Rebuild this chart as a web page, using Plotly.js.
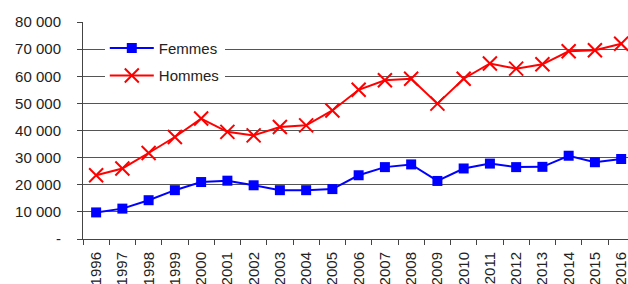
<!DOCTYPE html>
<html><head><meta charset="utf-8">
<script src="https://cdn.plot.ly/plotly-3.0.1.min.js"></script>
<style>html,body{margin:0;padding:0;background:#fff;}#chart{width:628px;height:284px;}</style>
</head><body><div id="chart"></div>
<script>
const years = ["1996","1997","1998","1999","2000","2001","2002","2003","2004","2005","2006","2007","2008","2009","2010","2011","2012","2013","2014","2015","2016"];
const femmes = [9800,11200,14300,18000,21000,21500,19800,18000,18000,18400,23500,26500,27500,21400,26000,27800,26500,26600,30700,28300,29500];
const hommes = [23500,26000,31700,37600,44400,39500,38200,41300,41900,47400,55000,58500,59100,49900,59100,64700,62800,64400,69200,69600,72000];
const yTickVals = [0,10000,20000,30000,40000,50000,60000,70000,80000];
const yTickText = ["-","10 000","20 000","30 000","40 000","50 000","60 000","70 000","80 000"];

const traces = [
  {x: years, y: femmes, name: "Femmes", type: "scatter", mode: "lines+markers", legendgroup: "f",
   line: {color: "#0000FF", width: 2}, marker: {symbol: "square", size: 10, color: "#0000FF"}},
  {x: years, y: hommes, name: "Hommes", type: "scatter", mode: "lines+markers", legendgroup: "h",
   line: {color: "#FF0000", width: 2}, marker: {symbol: "x-thin", size: 14, color: "#FF0000", line: {color: "#FF0000", width: 2}}}
];
const layout = {
  width: 628, height: 284,
  margin: {l: 83, r: 0, t: 22, b: 45},
  paper_bgcolor: "#fff", plot_bgcolor: "#fff",
  font: {family: "Liberation Sans, Arial, sans-serif", size: 15, color: "#222"},
  showlegend: true,
  legend: {x: 0.04, y: 0.955, xanchor: "left", yanchor: "top", bgcolor: "#fff",
           font: {size: 15, color: "#222"}, traceorder: "grouped", tracegroupgap: 5, itemwidth: 44},
  xaxis: {type: "category", range: [-0.5, 20.26], tickangle: -90, tickson: "boundaries",
          ticks: "outside", ticklen: 5, tickcolor: "#444", showline: true, linecolor: "#444", linewidth: 1,
          showgrid: false, tickfont: {size: 15, color: "#222"}, ticklabelstandoff: 6, fixedrange: true},
  yaxis: {range: [0, 80000], tickvals: yTickVals, ticktext: yTickText, ticks: "outside", ticklen: 5,
          tickcolor: "#444", showline: true, linecolor: "#444", linewidth: 1,
          showgrid: true, gridcolor: "#555", gridwidth: 1, zeroline: false,
          tickfont: {size: 15, color: "#222"}, ticklabelstandoff: 13}
};
Plotly.newPlot("chart", traces, layout, {displayModeBar: false, staticPlot: true});
</script></body></html>
